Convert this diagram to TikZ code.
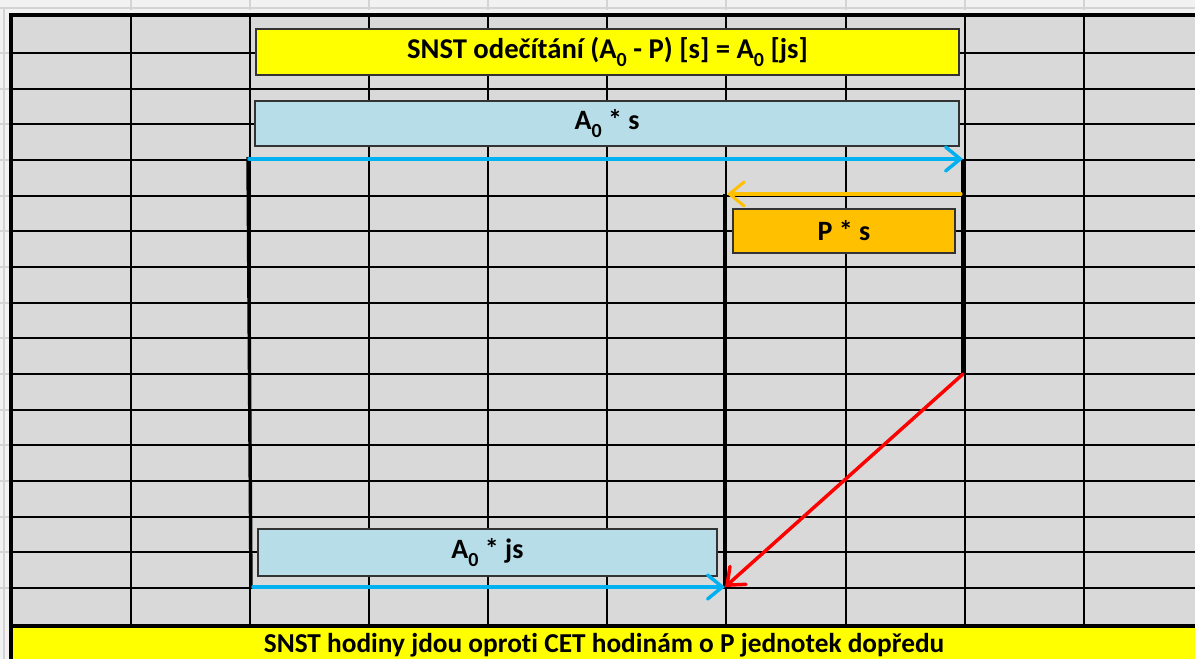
\documentclass[tikz,border=0pt]{standalone}
\usepackage{fontspec}
\setmainfont{Carlito}[Ligatures=NoCommon]
\usetikzlibrary{arrows.meta}
\definecolor{cellgray}{HTML}{D9D9D9}
\definecolor{margingray}{HTML}{F2F2F2}
\definecolor{rulergray}{HTML}{D4D4D4}
\definecolor{titleyellow}{HTML}{FFFF00}
\definecolor{boxblue}{HTML}{B7DEE8}
\definecolor{boxorange}{HTML}{FFC000}
\definecolor{arrowblue}{HTML}{00B0F0}
\definecolor{arrowred}{HTML}{FF0000}
\newcommand\lowidx[1]{\raisebox{-0.55ex}{\fontsize{15}{15}\selectfont #1}}
\tikzset{
  gridline/.style={black, line width=1.2pt},
  frameline/.style={black, line width=3pt},
  bar/.style={black, line width=2.6pt},
  box/.style={draw=black!80, line width=0.8pt, inner sep=0pt, font=\bfseries\fontsize{21}{24}\selectfont},
  arr/.style={line width=2.6pt, line cap=round, -{Straight Barb[length=11pt,width=18pt,line cap=round]}},
}
\begin{document}
\begin{tikzpicture}[x=0.75pt,y=-0.75pt]
\useasboundingbox (0,0) rectangle (1195,659);
% margins
\fill[margingray] (0,0) rectangle (1195,659);
\foreach \x in {131,250,369,488,607,726,846,965,1084}
  \draw[rulergray, line width=0.8pt] (\x,0) -- (\x,10);
\foreach \y in {53,89,124,160,196,231,267,303,338,374,410,445,481,517,552,588}
  \draw[rulergray, line width=0.8pt] (0,\y) -- (9,\y);
\draw[rulergray, line width=1pt] (0,8) -- (1195,8);
\draw[rulergray, line width=1pt] (4,8) -- (4,659);
% cells
\fill[cellgray] (11,15) rectangle (1195,627);
\foreach \x in {131,250,369,488,607,726,846,965,1084}
  \draw[gridline] (\x,15) -- (\x,627);
\foreach \y in {53,89,124,160,196,231,267,303,338,374,410,445,481,517,552,588}
  \draw[gridline] (11,\y) -- (1195,\y);
\draw[frameline] (11,661) -- (11,15) -- (1195,15);
\draw[frameline] (11,626) -- (1195,626);
% boxes
\node[box, fill=titleyellow, minimum width=527.25pt, minimum height=34.5pt, font=\bfseries\fontsize{21.5}{24}\selectfont] (title) at (607.5,52)
  {SNST odečítání (A\lowidx{0} - P) [s] = A\lowidx{0} [js]};
\node[box, fill=boxblue, minimum width=528pt, minimum height=33.75pt] (a0s) at (607,123.5)
  {A\lowidx{0} * s};
\node[box, fill=boxorange, minimum width=166.5pt, minimum height=33pt] (ps) at (844,231)
  {P * s};
\node[box, fill=boxblue, minimum width=344.25pt, minimum height=35.25pt] (a0js) at (487.5,552.5)
  {A\lowidx{0} * js};
\node[draw=none, fill=titleyellow, inner sep=0pt, minimum width=886.5pt, minimum height=26pt,
  font=\bfseries\fontsize{20.5}{23}\selectfont] (bottom) at (604,645)
  {SNST hodiny jdou oproti CET hodinám o P jednotek dopředu};
\draw[frameline] (11,661) -- (11,627);
% coordinates
\coordinate (sL) at (249,159);
\coordinate (sR) at (963,159);
\coordinate (pR) at (961,194);
\coordinate (pL) at (727,194);
\coordinate (mTop) at (725,194);
\coordinate (mBot) at (725,588);
\coordinate (rBot) at (963,374);
\coordinate (jsL) at (253,587);
\coordinate (jsR) at (725,587);
\coordinate (lTop) at (248,157);
\coordinate (lBot) at (251,588);
% vertical bars
\draw[bar] (lTop) -- (lBot);
\draw[bar, line width=3pt] (sR) -- (rBot);
\draw[bar, line width=3pt] (mTop) -- (mBot);
% arrows
\draw[arr, arrowblue] (sL) -- (sR);
\draw[arr, boxorange, line width=2.3pt] (pR) -- (pL);
\draw[arr, arrowblue] (jsL) -- (jsR);
\draw[arr, arrowred] (rBot) -- (jsR);
\end{tikzpicture}
\end{document}
